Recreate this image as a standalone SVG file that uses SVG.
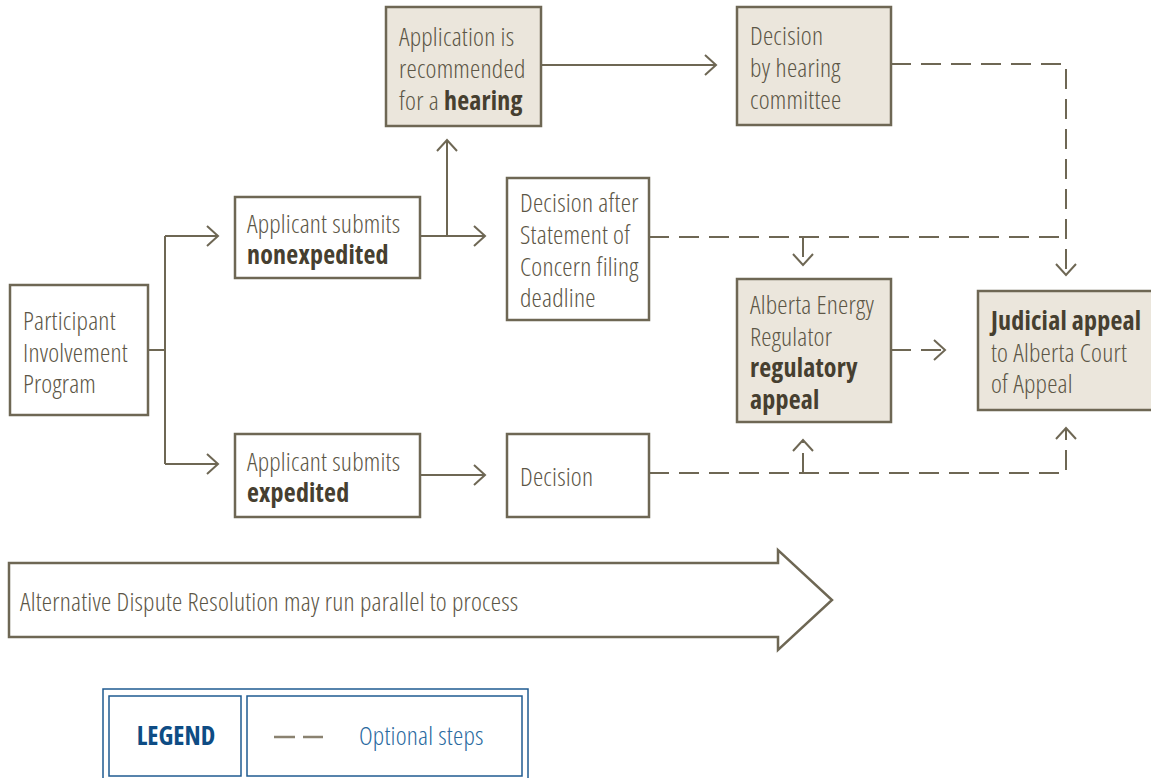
<svg xmlns="http://www.w3.org/2000/svg" width="1151" height="778" viewBox="0 0 1151 778">
<defs>
<marker id="ah" markerUnits="userSpaceOnUse" viewBox="0 0 14 24" markerWidth="14" markerHeight="24" refX="12.5" refY="12" orient="auto" overflow="visible">
<path d="M1.5,2 L12.5,12 L1.5,22" fill="none" stroke="#6e6754" stroke-width="2" stroke-dasharray="none"/>
</marker>
<style>
.box{fill:#ffffff;stroke:#6e6754;stroke-width:2.5}
.sh{fill:#ebe6dc;stroke:#6e6754;stroke-width:2.5}
.t{font-family:"Open Sans","Liberation Sans",sans-serif;font-stretch:condensed;font-weight:300;font-size:26px;letter-spacing:0.2px;fill:#5c5646}
.b{font-weight:700;fill:#463f30}
.ln{fill:none;stroke:#6e6754;stroke-width:2}
.d{stroke-dasharray:20 10}
.lg{fill:#ffffff;stroke:#1f5b91;stroke-width:1.5}
</style>
</defs>

<g id="connectors">
<path class="ln" d="M148,350 H165"/>
<path class="ln" d="M165,236 V464"/>
<path class="ln" d="M165,236 H218" marker-end="url(#ah)"/>
<path class="ln" d="M165,464 H218" marker-end="url(#ah)"/>
<path class="ln" d="M420,236 H485" marker-end="url(#ah)"/>
<path class="ln" d="M447,236 V140" marker-end="url(#ah)"/>
<path class="ln" d="M420,475 H485" marker-end="url(#ah)"/>
<path class="ln" d="M541,65 H716" marker-end="url(#ah)"/>
<path class="ln d" d="M891,64 H1066 V275" marker-end="url(#ah)"/>
<path class="ln d" d="M649,237 H1066"/>
<path class="ln d" d="M803,237 V265" marker-end="url(#ah)"/>
<path class="ln d" d="M891,350 H945" marker-end="url(#ah)"/>
<path class="ln d" d="M649,473 H1066 V428" marker-end="url(#ah)"/>
<path class="ln d" d="M803,473 V440" marker-end="url(#ah)"/>
</g>

<g id="pip">
<rect class="box" x="10" y="285" width="138" height="130"/>
<text class="t" x="23"><tspan x="23" y="330">Participant</tspan><tspan x="23" y="362">Involvement</tspan><tspan x="23" y="393">Program</tspan></text>
</g>

<g id="nonexpedited">
<rect class="box" x="235" y="197" width="185" height="81"/>
<text class="t"><tspan x="247" y="233">Applicant submits</tspan><tspan x="247" y="264" class="b">nonexpedited</tspan></text>
</g>

<g id="expedited">
<rect class="box" x="235" y="434" width="185" height="83"/>
<text class="t"><tspan x="247" y="471">Applicant submits</tspan><tspan x="247" y="502" class="b">expedited</tspan></text>
</g>

<g id="hearing">
<rect class="sh" x="386" y="7" width="155" height="119"/>
<text class="t"><tspan x="399" y="46">Application is</tspan><tspan x="399" y="78">recommended</tspan><tspan x="399" y="110">for a <tspan class="b">hearing</tspan></tspan></text>
</g>

<g id="committee">
<rect class="sh" x="737" y="7" width="154" height="118"/>
<text class="t"><tspan x="750" y="45">Decision</tspan><tspan x="750" y="77">by hearing</tspan><tspan x="750" y="109">committee</tspan></text>
</g>

<g id="soc">
<rect class="box" x="507" y="178" width="142" height="142"/>
<text class="t"><tspan x="520" y="212">Decision after</tspan><tspan x="520" y="244">Statement of</tspan><tspan x="520" y="276">Concern filing</tspan><tspan x="520" y="307">deadline</tspan></text>
</g>

<g id="decision">
<rect class="box" x="507" y="434" width="142" height="83"/>
<text class="t" x="520" y="486">Decision</text>
</g>

<g id="aer">
<rect class="sh" x="737" y="279" width="154" height="143"/>
<text class="t"><tspan x="750" y="314">Alberta Energy</tspan><tspan x="750" y="346">Regulator</tspan><tspan x="750" y="377" class="b">regulatory</tspan><tspan x="750" y="409" class="b">appeal</tspan></text>
</g>

<g id="judicial">
<rect class="sh" x="978" y="291" width="176" height="119"/>
<text class="t"><tspan x="991" y="330" class="b">Judicial appeal</tspan><tspan x="991" y="362">to Alberta Court</tspan><tspan x="991" y="393">of Appeal</tspan></text>
</g>

<g id="adr">
<path d="M9,563 H778 V550 L832,600 L778,650 V637 H9 Z" fill="#ffffff" stroke="#6e6754" stroke-width="2.5"/>
<text class="t" x="20" y="611">Alternative Dispute Resolution may run parallel to process</text>
</g>

<g id="legend">
<rect class="lg" x="103" y="689" width="425" height="95"/>
<rect class="lg" x="109" y="696" width="132" height="80"/>
<rect class="lg" x="247" y="696" width="275" height="80"/>
<text x="176" y="745" text-anchor="middle" style="font-family:'Open Sans','Liberation Sans',sans-serif;font-stretch:condensed;font-weight:700;font-size:26px;fill:#0e4c84">LEGEND</text>
<path d="M274,737 H295 M303,737 H323" stroke="#8a8270" stroke-width="2.5"/>
<text x="359" y="745" style="font-family:'Open Sans','Liberation Sans',sans-serif;font-stretch:condensed;font-weight:300;font-size:26px;letter-spacing:0.2px;fill:#2a6aa0">Optional steps</text>
</g>
</svg>
